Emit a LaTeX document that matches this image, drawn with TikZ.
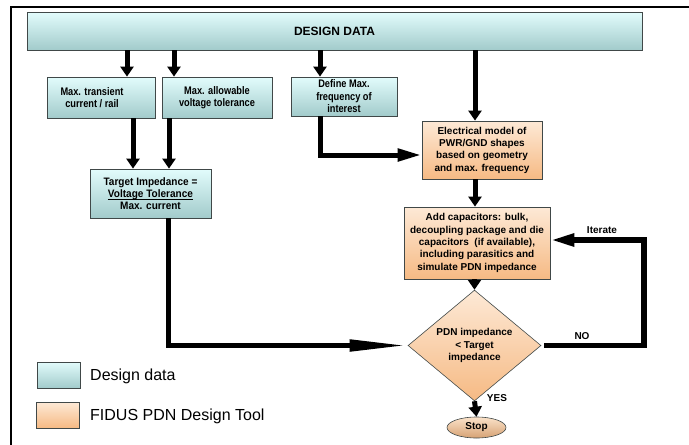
\documentclass[tikz,border=0pt]{standalone}
\usepackage{fontspec}
\setmainfont{Liberation Sans}
\newfontfamily\narrowfont[FakeStretch=0.84]{Liberation Sans}
\newfontfamily\semifont[FakeStretch=0.93]{Liberation Sans}
\usetikzlibrary{shapes.geometric,arrows.meta}
\definecolor{tealtop}{HTML}{E2FCFC}
\definecolor{tealbot}{HTML}{A2CBCB}
\definecolor{orgtop}{HTML}{FDE9D6}
\definecolor{orgbot}{HTML}{F6BA84}
\definecolor{stoptop}{HTML}{FBE2C9}
\definecolor{stopbot}{HTML}{D6A274}
\definecolor{edgec}{HTML}{404848}
\newcommand{\myul}[1]{\setbox0\hbox{#1}\rlap{\rule[-1.8pt]{\wd0}{0.6pt}}\box0}
\begin{document}
\begin{tikzpicture}[x=1pt,y=-1pt,
  databox/.style={draw=edgec, line width=0.8pt, top color=tealtop, bottom color=tealbot,
    inner sep=0pt, align=center, text=black},
  toolbox/.style={databox, top color=orgtop, bottom color=orgbot,
    font=\bfseries\fontsize{10}{12.3}\selectfont},
  smallbox/.style={databox, font=\narrowfont\bfseries\fontsize{11}{12.5}\selectfont},
  arr/.style={line width=5pt, -{Triangle[width=13pt,length=10pt]}},
  arrlong/.style={line width=5pt, -{Triangle[width=12pt,length=24pt]}},
  arrvlong/.style={line width=5pt, -{Triangle[width=11pt,length=58pt]}},
  lbl/.style={font=\bfseries\fontsize{10}{12}\selectfont, inner sep=0pt},
  legtxt/.style={font=\fontsize{16}{18}\selectfont, anchor=west, inner sep=0pt}
]
\useasboundingbox (0,0) rectangle (689,445);
% outer frame
\draw[line width=2.5pt] (689,7) -- (11,7) -- (11,445);

% nodes
\node[databox, minimum width=615pt, minimum height=38pt,
  font=\bfseries\fontsize{12}{14}\selectfont] (dd) at (334.5,31) {DESIGN DATA};
\node[smallbox, minimum width=108pt, minimum height=41pt] (b1) at (101,97.5)
  {\hspace*{-18pt}Max. transient\\\hspace*{-18pt}current / rail};
\node[smallbox, minimum width=110pt, minimum height=41pt] (b2) at (217,97.5)
  {Max. allowable\\voltage tolerance};
\node[smallbox, minimum width=106pt, minimum height=39pt] (b3) at (344,96.5)
  {Define Max.\\frequency of\\interest};
\node[databox, minimum width=121pt, minimum height=49pt,
  font=\semifont\bfseries\fontsize{10.8}{12.3}\selectfont] (tgt) at (150.5,193.5)
  {Target Impedance =\\\myul{Voltage Tolerance}\\Max. current};
\node[toolbox, minimum width=120pt, minimum height=58pt] (elec) at (482,150)
  {Electrical model of\\PWR/GND shapes\\based on geometry\\and max. frequency};
\node[toolbox, minimum width=146pt, minimum height=72pt] (cap) at (477,243)
  {Add capacitors: bulk,\\decoupling package and die\\capacitors\ \ (if available),\\including parasitics and\\simulate PDN impedance};
\node[diamond, draw=edgec, line width=0.6pt, top color=orgtop, bottom color=orgbot,
  minimum width=133pt, minimum height=83pt, inner sep=0pt, align=center,
  font=\bfseries\fontsize{10}{12.7}\selectfont] (dia) at (474.5,345.5)
  {PDN impedance\\< Target\\impedance};
\node[ellipse, draw=edgec, line width=0.6pt, top color=stoptop, bottom color=stopbot,
  minimum width=59pt, minimum height=21pt, inner sep=0pt,
  font=\bfseries\fontsize{10}{12}\selectfont] (stop) at (476.5,427.5) {Stop};

% legend
\node[databox, minimum width=43pt, minimum height=26pt] (lg1) at (58.5,375) {};
\node[databox, top color=orgtop, bottom color=orgbot, minimum width=43pt, minimum height=26pt] (lg2) at (57.5,415) {};
\node[legtxt] (lt1) at (90,376) {Design data};
\node[legtxt] (lt2) at (90,416) {FIDUS PDN Design Tool};

% helper coordinates
\coordinate (x127) at (127,0);
\coordinate (x174) at (174,0);
\coordinate (x320) at (320,0);
\coordinate (x475) at (475,0);
\coordinate (x133) at (133,0);
\coordinate (x169) at (169,0);
\coordinate (x168) at (168,0);
\coordinate (y155) at (0,155);
\coordinate (y240) at (0,240);
\coordinate (cor1) at (168,345.5);
\coordinate (cor2) at (320,155);
\coordinate (nostart) at (544,345.5);
\coordinate (cor3) at (644,345.5);
\coordinate (cor4) at (644,240);

% connectors
\draw[arr] (dd.south -| x127) -- (b1.north -| x127);
\draw[arr] (dd.south -| x174) -- (b2.north -| x174);
\draw[arr] (dd.south -| x320) -- (b3.north -| x320);
\draw[arr] (dd.south -| x475) -- (elec.north -| x475);
\draw[arr] (b1.south -| x133) -- (tgt.north -| x133);
\draw[arr] (b2.south -| x169) -- (tgt.north -| x169);
\draw[arrvlong] (tgt.south -| x168) -- (cor1) -- (dia.west);
\draw[arrlong] (b3.south -| x320) -- (cor2) -- (elec.west |- y155);
\draw[arr] (elec.south -| x475) -- (cap.north -| x475);
\draw[arr] (cap.south -| dia.north) -- (dia.north);
\draw[arr] (dia.south) -- (stop.north);
\draw[arrlong, line width=5.5pt] (nostart) -- (cor3) -- (cor4) -- (cap.east |- y240);

% labels
\node[lbl] (it) at (602,230) {Iterate};
\node[lbl] (no) at (582,336) {NO};
\node[lbl] (yes) at (497,398) {YES};
\end{tikzpicture}
\end{document}
